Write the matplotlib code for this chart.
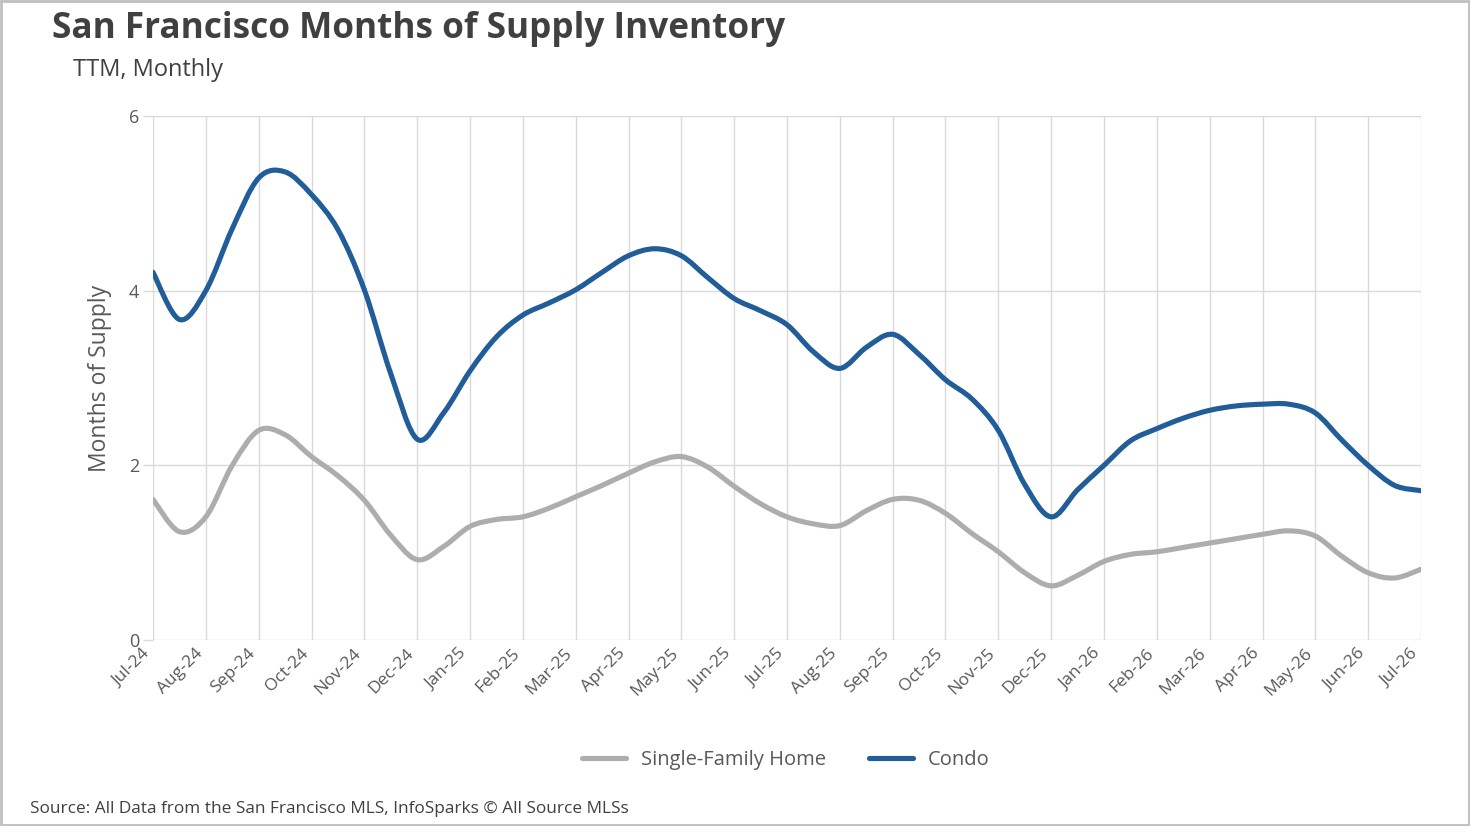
import numpy as np
import matplotlib.pyplot as plt
from matplotlib.path import Path
from matplotlib.patches import PathPatch, Rectangle
from matplotlib.lines import Line2D

plt.rcParams['font.family'] = ['Open Sans', 'DejaVu Sans']

# 数据（半月一个点，标签每月一个）
months = ['Jul-24', 'Aug-24', 'Sep-24', 'Oct-24', 'Nov-24', 'Dec-24', 'Jan-25',
          'Feb-25', 'Mar-25', 'Apr-25', 'May-25', 'Jun-25', 'Jul-25', 'Aug-25',
          'Sep-25', 'Oct-25', 'Nov-25', 'Dec-25', 'Jan-26', 'Feb-26', 'Mar-26',
          'Apr-26', 'May-26', 'Jun-26', 'Jul-26']
sfh = [1.61, 1.24, 1.41, 2.00, 2.40, 2.35, 2.10, 1.88, 1.60, 1.20, 0.92, 1.07,
       1.30, 1.38, 1.41, 1.51, 1.64, 1.77, 1.91, 2.04, 2.10, 1.98, 1.76, 1.56,
       1.41, 1.33, 1.31, 1.48, 1.61, 1.60, 1.45, 1.22, 1.01, 0.77, 0.62, 0.74,
       0.90, 0.98, 1.01, 1.06, 1.11, 1.16, 1.21, 1.25, 1.19, 0.96, 0.77, 0.71,
       0.81]
condo = [4.21, 3.67, 4.00, 4.71, 5.29, 5.36, 5.10, 4.70, 4.01, 3.05, 2.30, 2.60,
         3.08, 3.47, 3.72, 3.86, 4.01, 4.21, 4.40, 4.48, 4.40, 4.15, 3.91, 3.77,
         3.61, 3.30, 3.11, 3.35, 3.50, 3.27, 2.98, 2.76, 2.40, 1.78, 1.41, 1.72,
         2.00, 2.28, 2.42, 2.54, 2.63, 2.68, 2.70, 2.70, 2.60, 2.29, 2.00, 1.77,
         1.71]

SFH_COLOR = '#ADADAD'
CONDO_COLOR = '#215D99'
TEXT = '#404040'
TICK = '#595959'


def smooth_path(xs, ys):
    # 类似 Excel 的平滑线：Catmull-Rom 转三次贝塞尔
    p = np.column_stack([xs, ys]).astype(float)
    n = len(p)
    verts = [p[0]]
    codes = [Path.MOVETO]
    for i in range(n - 1):
        p0 = p[i - 1] if i > 0 else p[i]
        p3 = p[i + 2] if i + 2 < n else p[i + 1]
        c1 = p[i] + (p[i + 1] - p0) / 6
        c2 = p[i + 1] - (p3 - p[i]) / 6
        verts += [c1, c2, p[i + 1]]
        codes += [Path.CURVE4] * 3
    return Path(verts, codes)


fig = plt.figure(figsize=(14.7, 8.26), dpi=100)
ax = fig.add_axes([153 / 1470, 1 - 640 / 826, (1421 - 153) / 1470, (640 - 116) / 826])

x = np.arange(len(sfh)) / 2
for vals, col in [(sfh, SFH_COLOR), (condo, CONDO_COLOR)]:
    patch = PathPatch(smooth_path(x, vals), facecolor='none', edgecolor=col,
                      lw=3.7, capstyle='round', joinstyle='round', zorder=3)
    ax.add_patch(patch)

ax.set_xlim(0, len(months) - 1)
ax.set_ylim(0, 6)
ax.set_yticks([0, 2, 4, 6])
ax.set_xticks(np.arange(len(months)))
ax.set_xticklabels(months, rotation=45, ha='right', fontsize=12.5, color=TICK)
ax.tick_params(axis='y', labelsize=13, labelcolor=TICK, color='#D9D9D9',
               length=7, width=1, pad=3)
ax.tick_params(axis='x', length=0, pad=4)
ax.grid(True, color='#D9D9D9', lw=1)
ax.set_axisbelow(True)
for s in ax.spines.values():
    s.set_visible(False)
ax.set_ylabel('Months of Supply', fontsize=16.5, color=TICK, labelpad=12)

# 标题
fig.text(52 / 1470, 1 - 29 / 826, 'San Francisco Months of Supply Inventory',
         fontsize=25.3, fontweight='bold', color=TEXT, va='center', ha='left')
fig.text(73 / 1470, 1 - 70 / 826, 'TTM, Monthly', fontsize=17, color=TEXT,
         va='center', ha='left')

# 图例
handles = [Line2D([], [], color=SFH_COLOR, lw=3.7, solid_capstyle='round'),
           Line2D([], [], color=CONDO_COLOR, lw=3.7, solid_capstyle='round')]
fig.legend(handles, ['Single-Family Home', 'Condo'], loc='center',
           bbox_to_anchor=(786 / 1470, 1 - 760 / 826), ncol=2, frameon=False,
           fontsize=14.5, labelcolor=TICK, handlelength=2.2, handletextpad=0.75,
           columnspacing=2.1)

fig.text(30 / 1470, 1 - 809 / 826,
         'Source: All Data from the San Francisco MLS, InfoSparks \u00a9 All Source MLSs',
         fontsize=12.4, color=TEXT, va='center', ha='left')

# 外框
fig.patches.append(Rectangle((0.001, 0.001), 0.998, 0.998, transform=fig.transFigure,
                             fill=False, edgecolor='#BFBFBF', lw=2))

plt.savefig('out.png', dpi=100)
